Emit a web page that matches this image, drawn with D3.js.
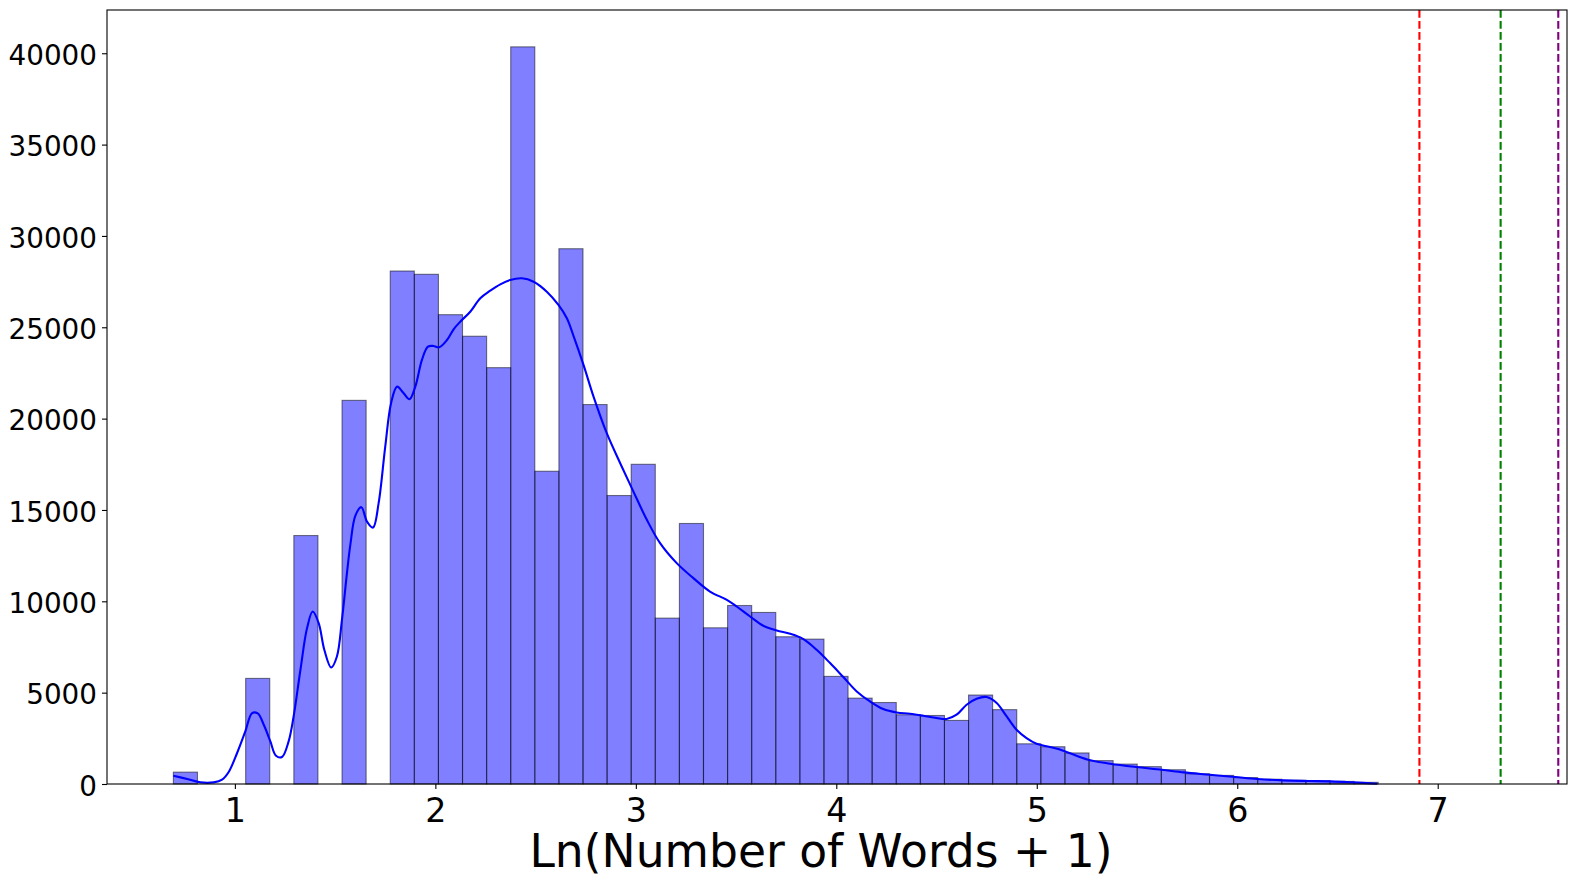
<!DOCTYPE html>
<html>
<head>
<meta charset="utf-8">
<script src="https://cdn.jsdelivr.net/npm/d3@7"></script>
<style>
  html, body { margin: 0; padding: 0; background: #fff; }
  svg { display: block; font-family: 'DejaVu Sans', sans-serif; }
</style>
</head>
<body>
<svg id="chart" width="1577" height="883"></svg>
<script>
// histogram: 50 bins of ln(words + 1), starting at ln(2)
const binStart = 0.6931
const binWidth = 0.1202
const counts = [
  650, 0, 0, 5780, 0, 13600, 0, 21000, 0, 28080,
  27900, 25690, 24510, 22790, 40350, 17120, 29300, 20770, 15790, 17500,
  9080, 14260, 8550, 9770, 9390, 8060, 7930, 5890, 4700, 4460,
  3790, 3750, 3480, 4870, 4070, 2200, 2040, 1700, 1280, 1090,
  950, 780, 560, 470, 350, 260, 200, 180, 140, 90,
]

// kde curve (already scaled to counts)
const kdeX = [
  0.693, 0.762, 0.828, 0.894, 0.936, 0.969, 1.011, 1.052, 1.086, 1.114,
  1.144, 1.177, 1.205, 1.235, 1.268, 1.293, 1.327, 1.360, 1.388, 1.418,
  1.446, 1.480, 1.509, 1.534, 1.559, 1.576, 1.601, 1.631, 1.659, 1.689,
  1.717, 1.750, 1.779, 1.809, 1.842, 1.871, 1.900, 1.933, 1.963, 1.991,
  2.019, 2.058, 2.091, 2.124, 2.174, 2.224, 2.274, 2.324, 2.373, 2.432,
  2.490, 2.556, 2.614, 2.656, 2.689, 2.739, 2.789, 2.855, 2.922, 2.988,
  3.055, 3.121, 3.204, 3.287, 3.370, 3.454, 3.503, 3.570, 3.636, 3.703,
  3.770, 3.836, 3.902, 3.969, 4.035, 4.102, 4.168, 4.234, 4.301, 4.367,
  4.434, 4.500, 4.550, 4.600, 4.650, 4.700, 4.750, 4.800, 4.850, 4.899,
  4.949, 4.999, 5.065, 5.128, 5.256, 5.366, 5.495, 5.624, 5.733, 5.862,
  5.990, 6.100, 6.229, 6.357, 6.467, 6.577, 6.697,
]
const kdeY = [
  454, 273, 88, 88, 235, 656, 1696, 2877, 3884, 3862,
  3244, 2330, 1548, 1477, 2330, 3698, 6253, 8534, 9442, 8807,
  7347, 6379, 6980, 8988, 11543, 13100, 14694, 15153, 14365, 14037,
  15372, 18468, 20842, 21751, 21389, 21061, 21751, 23211, 23939, 23977,
  23906, 24305, 24891, 25306, 25853, 26586, 27002, 27352, 27587, 27680,
  27494, 26947, 26220, 25492, 24530, 22938, 21204, 19201, 17560, 16007,
  14459, 13184, 12090, 11269, 10536, 10082, 9716, 9169, 8660, 8403,
  8222, 7932, 7347, 6619, 5853, 5066, 4519, 4103, 3917, 3846,
  3736, 3611, 3556, 3791, 4338, 4666, 4759, 4431, 3698, 2970,
  2516, 2205, 2024, 1838, 1329, 1110, 930, 782, 635, 509,
  383, 273, 197, 164, 142, 88, 16,
]

// reference lines at ln(1001), ln(1501), ln(2001)
const refLines = [
  { x: Math.log(1001), color: '#ff0000' },
  { x: Math.log(1501), color: '#008000' },
  { x: Math.log(2001), color: '#800080' },
]

const xTicks = [1, 2, 3, 4, 5, 6, 7]
const yTicks = [0, 5000, 10000, 15000, 20000, 25000, 30000, 35000, 40000]
const xLabel = 'Ln(Number of Words + 1)'

const margin = { top: 10, right: 10, bottom: 99, left: 107 }
const svg = d3.select('#chart')
const width = +svg.attr('width') - margin.left - margin.right
const height = +svg.attr('height') - margin.top - margin.bottom

const bins = counts.map((c, i) => ({
  x0: binStart + i * binWidth,
  x1: binStart + (i + 1) * binWidth,
  count: c,
}))

// matplotlib-like autoscale: 5% margin around data (bins + green line)
const dataMin = binStart
const dataMax = refLines[1].x
const pad = (dataMax - dataMin) * 0.05
const x = d3.scaleLinear()
  .domain([dataMin - pad, dataMax + pad])
  .range([0, width])
const y = d3.scaleLinear()
  .domain([0, d3.max(counts) * 1.05])
  .range([height, 0])

const g = svg.append('g')
  .attr('transform', `translate(${margin.left},${margin.top})`)

// bars
g.append('g')
  .selectAll('rect')
  .data(bins.filter(d => d.count > 0))
  .enter().append('rect')
  .attr('x', d => x(d.x0))
  .attr('y', d => y(d.count))
  .attr('width', d => x(d.x1) - x(d.x0))
  .attr('height', d => y(0) - y(d.count))
  .attr('fill', '#0000ff')
  .attr('fill-opacity', 0.5)
  .attr('stroke', '#000')
  .attr('stroke-opacity', 0.5)
  .attr('stroke-width', 1.1)

// kde
const line = d3.line()
  .x(d => x(d[0]))
  .y(d => y(d[1]))
  .curve(d3.curveCatmullRom.alpha(0.5))
g.append('path')
  .datum(kdeX.map((v, i) => [v, kdeY[i]]))
  .attr('fill', 'none')
  .attr('stroke', '#0000ff')
  .attr('stroke-width', 2.1)
  .attr('stroke-linejoin', 'round')
  .attr('d', line)

// dashed reference lines
g.append('g')
  .selectAll('line')
  .data(refLines)
  .enter().append('line')
  .attr('x1', d => x(d.x))
  .attr('x2', d => x(d.x))
  .attr('y1', 0)
  .attr('y2', height)
  .attr('stroke', d => d.color)
  .attr('stroke-width', 2.1)
  .attr('stroke-dasharray', '7.7,3.3')

// axes
const xAxis = g.append('g')
  .attr('transform', `translate(0,${height})`)
  .call(d3.axisBottom(x).tickValues(xTicks).tickFormat(d3.format('d'))
    .tickSize(5).tickPadding(9))
xAxis.select('.domain').remove()
xAxis.selectAll('line').attr('stroke', '#000').attr('stroke-width', 1.1)
xAxis.selectAll('text')
  .attr('font-size', 33.3)
  .attr('font-family', 'DejaVu Sans')
  .attr('fill', '#000')

const yAxis = g.append('g')
  .call(d3.axisLeft(y).tickValues(yTicks).tickFormat(d3.format('d'))
    .tickSize(5).tickPadding(5))
yAxis.select('.domain').remove()
yAxis.selectAll('line').attr('stroke', '#000').attr('stroke-width', 1.1)
yAxis.selectAll('text')
  .attr('font-size', 27.8)
  .attr('font-family', 'DejaVu Sans')
  .attr('fill', '#000')
  .attr('dy', '0.4em')

// frame
g.append('rect')
  .attr('x', 0)
  .attr('y', 0)
  .attr('width', width)
  .attr('height', height)
  .attr('fill', 'none')
  .attr('stroke', '#000')
  .attr('stroke-width', 1.1)

g.append('text')
  .attr('x', width / 2 - 16)
  .attr('y', height + 83)
  .attr('text-anchor', 'middle')
  .attr('font-size', 45.6)
  .attr('fill', '#000')
  .text(xLabel)
</script>
</body>
</html>
